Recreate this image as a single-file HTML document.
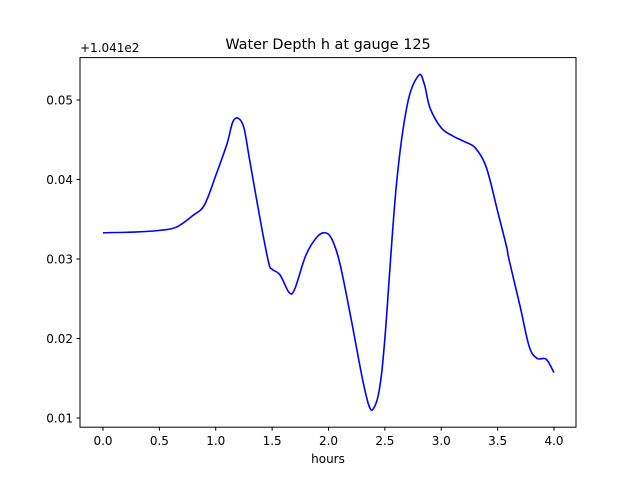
<!DOCTYPE html>
<html><head><meta charset="utf-8"><style>
body{margin:0;background:#fff;font-family:"Liberation Sans","DejaVu Sans",sans-serif}
svg text{font-family:"DejaVu Sans","Liberation Sans",sans-serif;font-size:12px;fill:#000}
</style></head><body>
<svg id="c" width="640" height="480" xmlns="http://www.w3.org/2000/svg">
<rect x="0" y="0" width="640" height="480" fill="#fff"/>
<text x="328" y="49" text-anchor="middle" style="font-size:14.4px">Water Depth h at gauge 125</text>
<text x="80" y="52" style="font-size:12px">+1.041e2</text>
<text x="328" y="463" text-anchor="middle">hours</text>
<g id="ticks"></g>
<path id="line" fill="none" stroke="#0000ff" stroke-width="1.6" stroke-linejoin="round"/>
<rect x="80" y="57.6" width="496" height="369.6" fill="none" stroke="#000" stroke-width="1"/>
</svg>
<script>
const times=[0.0,0.3,0.5,0.65,0.8,0.9,1.0,1.1,1.15,1.2,1.25,1.3,1.4,1.47,1.5,1.57,1.65,1.7,1.8,1.9,1.97,2.03,2.1,2.2,2.3,2.36,2.4,2.45,2.5,2.6,2.7,2.8,2.85,2.9,3.0,3.1,3.2,3.3,3.4,3.5,3.58,3.6,3.7,3.78,3.85,3.93,4.0];
const depths=[0.0333,0.0334,0.0336,0.0340,0.0355,0.0368,0.0405,0.0445,0.0472,0.0477,0.0465,0.0425,0.0345,0.0295,0.0287,0.0280,0.0258,0.0262,0.0305,0.0328,0.0333,0.0325,0.0295,0.0225,0.0150,0.0115,0.0112,0.0135,0.0200,0.0390,0.0495,0.0531,0.0520,0.0490,0.0465,0.0455,0.0448,0.0440,0.0415,0.0360,0.0315,0.0300,0.0240,0.0190,0.0175,0.0174,0.0157];
const xTicks=[0,0.5,1,1.5,2,2.5,3,3.5,4];
const xTickLabels=["0.0","0.5","1.0","1.5","2.0","2.5","3.0","3.5","4.0"];
const yTicks=[0.01,0.02,0.03,0.04,0.05];
const yTickLabels=["0.01","0.02","0.03","0.04","0.05"];
const xs=t=>103+t*112.75;
const ys=v=>418-(v-0.01)*7950;
const NS="http://www.w3.org/2000/svg";
const g=document.getElementById('ticks');
xTicks.forEach((t,i)=>{
 const l=document.createElementNS(NS,'line');
 l.setAttribute('x1',xs(t));l.setAttribute('x2',xs(t));l.setAttribute('y1',427.2);l.setAttribute('y2',430.7);l.setAttribute('stroke','#000');
 
 
 g.appendChild(l);
 const tx=document.createElementNS(NS,'text');
 tx.setAttribute('x',xs(t));tx.setAttribute('y',445);tx.setAttribute('text-anchor','middle');tx.textContent=xTickLabels[i];
 
 
 g.appendChild(tx);
});
yTicks.forEach((v,i)=>{
 const l=document.createElementNS(NS,'line');
 l.setAttribute('x1',76.5);l.setAttribute('x2',80);l.setAttribute('y1',ys(v));l.setAttribute('y2',ys(v));l.setAttribute('stroke','#000');
 
 
 g.appendChild(l);
 const tx=document.createElementNS(NS,'text');
 tx.setAttribute('x',73);tx.setAttribute('y',ys(v)+4.5);tx.setAttribute('text-anchor','end');tx.textContent=yTickLabels[i];
 
 
 g.appendChild(tx);
});
const P=times.map((t,i)=>[xs(t),ys(depths[i])]);
let d='M'+P[0][0]+','+P[0][1];
for(let i=0;i<P.length-1;i++){
 const p0=P[Math.max(0,i-1)],p1=P[i],p2=P[i+1],p3=P[Math.min(P.length-1,i+2)];
 const c1x=p1[0]+(p2[0]-p0[0])/6,c1y=p1[1]+(p2[1]-p0[1])/6;
 const c2x=p2[0]-(p3[0]-p1[0])/6,c2y=p2[1]-(p3[1]-p1[1])/6;
 d+=' C'+c1x+','+c1y+' '+c2x+','+c2y+' '+p2[0]+','+p2[1];
}
document.getElementById('line').setAttribute('d',d);
</script>
</body></html>
